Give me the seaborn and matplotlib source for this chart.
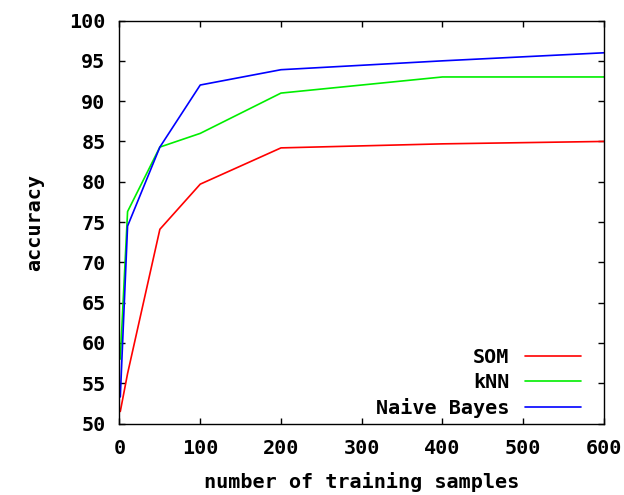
import matplotlib
matplotlib.use("Agg")
import matplotlib.pyplot as plt
import seaborn as sns
import pandas as pd

# ---- data ----
samples = [1, 10, 50, 100, 200, 400, 600]
som = [51.5, 56.2, 74.1, 79.7, 84.2, 84.7, 85.0]
knn = [58.0, 76.3, 84.3, 86.0, 91.0, 93.0, 93.0]
naive_bayes = [53.3, 74.5, 84.3, 92.0, 93.9, 95.0, 96.0]
methods = ["SOM", "kNN", "Naive Bayes"]
colors = ["#ff0000", "#00ee00", "#0000ff"]
x_ticks = [0, 100, 200, 300, 400, 500, 600]
y_ticks = [50, 55, 60, 65, 70, 75, 80, 85, 90, 95, 100]

sns.set_theme(style="ticks")
plt.rcParams['font.family'] = ['DejaVu Sans Mono']
plt.rcParams['font.weight'] = 'bold'
plt.rcParams['text.color'] = 'black'
plt.rcParams['axes.labelcolor'] = 'black'
plt.rcParams['xtick.color'] = 'black'
plt.rcParams['ytick.color'] = 'black'

FS = 14.5

rows = []
for name, vals in zip(methods, [som, knn, naive_bayes]):
    for s, v in zip(samples, vals):
        rows.append({"samples": s, "accuracy": v, "method": name})
df = pd.DataFrame(rows)

fig = plt.figure(figsize=(6.24, 4.95), dpi=100)
ax = fig.add_axes([0.1915, 0.1444, 0.7764, 0.8141])

sns.lineplot(data=df, x="samples", y="accuracy", hue="method",
             hue_order=methods, palette=colors, linewidth=1.2,
             ax=ax, legend=False)

ax.set_xlim(0, 600)
ax.set_ylim(50, 100)
ax.set_xticks(x_ticks)
ax.set_yticks(y_ticks)
ax.set_xticklabels([str(t) for t in x_ticks], fontsize=FS, fontweight='bold')
ax.set_yticklabels([str(t) for t in y_ticks], fontsize=FS, fontweight='bold')
ax.tick_params(axis='both', direction='in', length=4, width=1, color='black',
               labelcolor='black', top=True, right=True)
ax.tick_params(axis='x', pad=11)
ax.tick_params(axis='y', pad=10)
for sp in ax.spines.values():
    sp.set_visible(True)
    sp.set_linewidth(1.0)
    sp.set_color('black')

ax.set_xlabel("number of training samples", fontsize=FS, fontweight='bold',
              color='black')
ax.set_ylabel("accuracy", fontsize=FS, fontweight='bold', color='black')
ax.xaxis.set_label_coords(0.5, -0.12)
ax.yaxis.set_label_coords(-0.155, 0.5)

handles = ax.get_lines()[:3]
leg = ax.legend(handles, methods, loc='lower right', frameon=False,
                markerfirst=False, alignment='right',
                handlelength=2.8, handletextpad=0.75, labelspacing=0.3,
                borderpad=0, borderaxespad=0,
                bbox_to_anchor=(0.9525, 0.014),
                prop={'size': FS, 'weight': 'bold'})
for t in leg.get_texts():
    t.set_color('black')

fig.savefig("out.png", dpi=100)
